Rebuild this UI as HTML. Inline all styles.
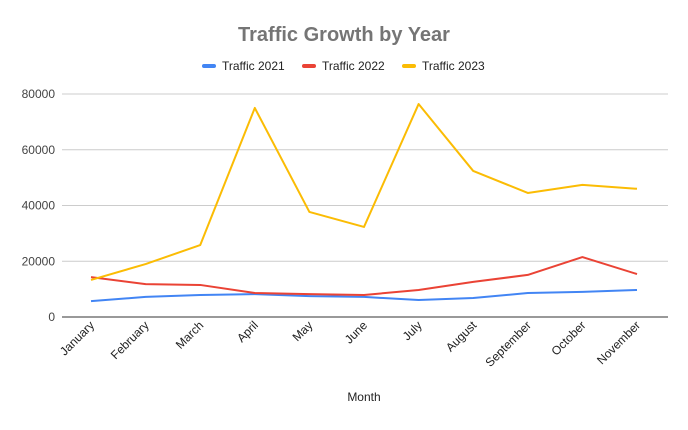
<!DOCTYPE html>
<html><head><meta charset="utf-8"><style>
body{margin:0;background:#fff;font-family:"Liberation Sans",Arial,sans-serif}
svg text{font-family:"Liberation Sans",Arial,sans-serif}
</style></head><body>
<svg id="c" width="688" height="425" xmlns="http://www.w3.org/2000/svg">
<rect width="688" height="425" fill="#fff"/>
<text x="344" y="41" text-anchor="middle" font-size="20" font-weight="bold" fill="#757575">Traffic Growth by Year</text>
<g id="legend"></g>
<g id="grid"></g><g id="series"></g><g id="xl"></g>
<text x="364" y="401" text-anchor="middle" font-size="12" fill="#222">Month</text>
</svg>
<script>
const categories=["January","February","March","April","May","June","July","August","September","October","November"];
const traffic2021=[5700,7200,7900,8200,7500,7200,6100,6800,8600,9000,9700];
const traffic2022=[14300,11800,11500,8600,8200,7900,9700,12600,15100,21500,15400];
const traffic2023=[13300,19000,25800,75000,37700,32300,76400,52400,44500,47400,46000];
const yTicks=[0,20000,40000,60000,80000];
const seriesNames=["Traffic 2021","Traffic 2022","Traffic 2023"];
const NS="http://www.w3.org/2000/svg";
const L=62,R=668,T=94,B=317,X0=91,X1=637;
const x=i=>X0+i*(X1-X0)/(categories.length-1);
const y=v=>B-(v/80000)*(B-T);
function mk(t,a,p){const e=document.createElementNS(NS,t);for(const k in a)e.setAttribute(k,a[k]);p.appendChild(e);return e;}
const g=document.getElementById('grid');
yTicks.forEach(v=>{
 const l=mk('line',{x1:L,x2:R,y1:y(v),y2:y(v),stroke:v===0?'#333':'#ccc','stroke-width':1},g);
 
 
 const t=mk('text',{x:55,y:y(v)+4,'text-anchor':'end','font-size':12,fill:'#444'},g);
 t.textContent=v;
 
 
});
const xl=document.getElementById('xl');
categories.forEach((c,i)=>{
 const t=mk('text',{x:x(i)+4,y:326,'text-anchor':'end','font-size':12,fill:'#222',transform:`rotate(-45 ${x(i)+4} 326)`},xl);
 t.textContent=c;
 
 
});
const colors=["#4285f4","#ea4335","#fbbc04"];
const s=document.getElementById('series');
[traffic2021,traffic2022,traffic2023].forEach((d,k)=>{
 const p=mk('polyline',{points:d.map((v,i)=>x(i)+','+y(v)).join(' '),fill:'none',stroke:colors[k],'stroke-width':2,'stroke-linejoin':'round'},s);
 
 
});
const lg=document.getElementById('legend');
const lx=[202,302,402];
seriesNames.forEach((n,k)=>{
 const r=mk('rect',{x:lx[k],y:64,width:14,height:4,rx:2,fill:colors[k]},lg);
 
 
 const t=mk('text',{x:lx[k]+20,y:70,'font-size':12,fill:'#222'},lg);
 t.textContent=n;
 
 
});
</script>
</body></html>
